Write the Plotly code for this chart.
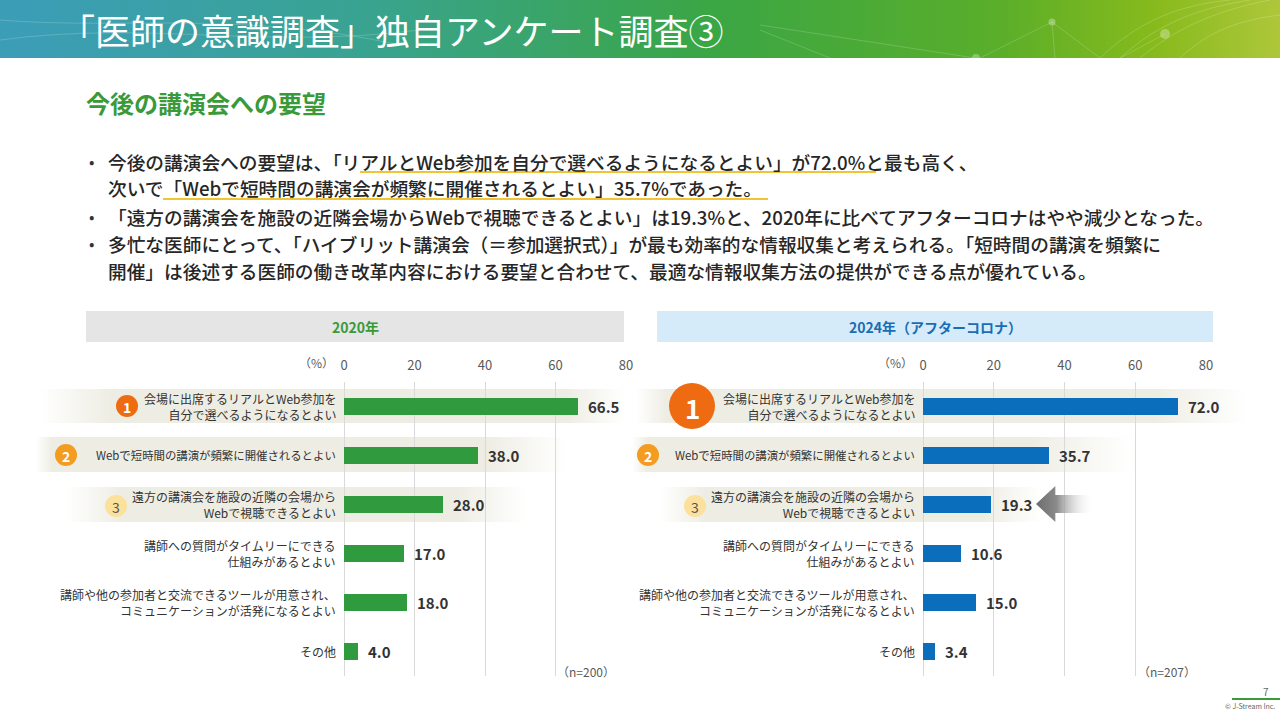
import base64
import plotly.graph_objects as go

W, H = 1280, 720
FONT = "Noto Sans CJK JP"

# ---------------- data ----------------
categories = [
    "会場に出席するリアルとWeb参加を<br>自分で選べるようになるとよい",
    "Webで短時間の講演が頻繁に開催されるとよい",
    "遠方の講演会を施設の近隣の会場から<br>Webで視聴できるとよい",
    "講師への質問がタイムリーにできる<br>仕組みがあるとよい",
    "講師や他の参加者と交流できるツールが用意され、<br>コミュニケーションが活発になるとよい",
    "その他",
]
values_2020 = [66.5, 38.0, 28.0, 17.0, 18.0, 4.0]
values_2024 = [72.0, 35.7, 19.3, 10.6, 15.0, 3.4]
x_ticks = [0, 20, 40, 60, 80]
ranks = ["1", "2", "3"]
n_2020 = "（n=200）"
n_2024 = "（n=207）"

title_text = "「医師の意識調査」独自アンケート調査③"
subtitle_text = "今後の講演会への要望"
bullet_lines = [
    ("•", "今後の講演会への要望は、「リアルとWeb参加を自分で選べるようになるとよい」が72.0%と最も高く、"),
    ("", "次いで「Webで短時間の講演会が頻繁に開催されるとよい」35.7%であった。"),
    ("•", "「遠方の講演会を施設の近隣会場からWebで視聴できるとよい」は19.3%と、2020年に比べてアフターコロナはやや減少となった。"),
    ("•", "多忙な医師にとって、「ハイブリット講演会（＝参加選択式）」が最も効率的な情報収集と考えられる。「短時間の講演を頻繁に"),
    ("", "開催」は後述する医師の働き改革内容における要望と合わせて、最適な情報収集方法の提供ができる点が優れている。"),
]

# label font sizes (style only)
label_sizes = [12, 11.4, 12, 12, 12, 12]


def px(x):
    return x / W


def py(y):
    return 1 - y / H


def svg_uri(svg):
    return "data:image/svg+xml;base64," + base64.b64encode(svg.encode("utf-8")).decode()


def band_svg(w, h, color="#eeede4", a=0.12, b=0.85):
    return svg_uri(
        f'<svg xmlns="http://www.w3.org/2000/svg" width="{w}" height="{h}" viewBox="0 0 {w} {h}" preserveAspectRatio="none">'
        f'<defs><linearGradient id="g" x1="0" x2="1" y1="0" y2="0">'
        f'<stop offset="0" stop-color="{color}" stop-opacity="0"/>'
        f'<stop offset="{a}" stop-color="{color}" stop-opacity="1"/>'
        f'<stop offset="{b}" stop-color="{color}" stop-opacity="1"/>'
        f'<stop offset="1" stop-color="{color}" stop-opacity="0"/>'
        f'</linearGradient></defs><rect x="0" y="0" width="{w}" height="{h}" fill="url(#g)"/></svg>'
    )


title_svg = svg_uri(
    '<svg xmlns="http://www.w3.org/2000/svg" width="1280" height="58" viewBox="0 0 1280 58" preserveAspectRatio="none">'
    '<defs><linearGradient id="t" x1="0" x2="1" y1="0" y2="0">'
    '<stop offset="0" stop-color="#3c9db8"/>'
    '<stop offset="0.28" stop-color="#39a392"/>'
    '<stop offset="0.55" stop-color="#3aa645"/>'
    '<stop offset="0.78" stop-color="#5aae2a"/>'
    '<stop offset="0.9" stop-color="#86ba1c"/>'
    '<stop offset="1" stop-color="#aec73a"/>'
    '</linearGradient></defs>'
    '<rect x="0" y="0" width="1280" height="58" fill="url(#t)"/>'
    '<g stroke="#ffffff" stroke-opacity="0.18" stroke-width="1" fill="none">'
    '<line x1="760" y1="25" x2="975" y2="58"/><line x1="760" y1="30" x2="830" y2="58"/>'
    '<line x1="980" y1="58" x2="1052" y2="22"/><line x1="1052" y1="22" x2="1100" y2="58"/>'
    '<line x1="1052" y1="22" x2="1055" y2="58"/><line x1="1165" y1="34" x2="1120" y2="58"/>'
    '<path d="M1100 58 C1140 20 1180 5 1230 0"/><path d="M1120 58 C1160 22 1200 8 1250 0"/>'
    '<path d="M1140 58 C1180 25 1220 10 1270 0"/><path d="M1180 58 C1210 30 1240 20 1280 15"/>'
    '<path d="M0 20 C120 30 240 10 400 45"/><path d="M0 40 C150 20 260 50 420 30"/>'
    '</g>'
    '<g fill="#ffffff" fill-opacity="0.3"><circle cx="1052" cy="22" r="3.5"/><circle cx="1165" cy="34" r="5"/>'
    '<circle cx="976" cy="58" r="4"/></g>'
    '</svg>'
)

arrow_svg = svg_uri(
    '<svg xmlns="http://www.w3.org/2000/svg" width="60" height="36" viewBox="0 0 60 36" preserveAspectRatio="none">'
    '<defs><linearGradient id="a" x1="0" x2="1" y1="0" y2="0">'
    '<stop offset="0" stop-color="#6d6d6d"/>'
    '<stop offset="0.35" stop-color="#8a8a8a"/>'
    '<stop offset="1" stop-color="#ffffff" stop-opacity="0"/>'
    '</linearGradient></defs>'
    '<path d="M0 18 L20 0 L20 9 L60 9 L60 27 L20 27 L20 36 Z" fill="url(#a)"/></svg>'
)

fig = go.Figure()

GREEN = "#2f9a3e"
BLUE = "#0a6ebd"

fig.add_trace(go.Bar(
    x=values_2020, y=list(range(len(categories))), orientation="h",
    marker=dict(color=GREEN, line=dict(width=0)), width=0.33,
    xaxis="x", yaxis="y", showlegend=False, hoverinfo="x",
))
fig.add_trace(go.Bar(
    x=values_2024, y=list(range(len(categories))), orientation="h",
    marker=dict(color=BLUE, line=dict(width=0)), width=0.33,
    xaxis="x2", yaxis="y2", showlegend=False, hoverinfo="x",
))

ydom = [py(675.5), py(381.5)]
axis_common = dict(
    range=[0, 80], tickvals=x_ticks, side="top", showgrid=True, gridcolor="#d9d9d9", gridwidth=1,
    zeroline=True, zerolinecolor="#d9d9d9", zerolinewidth=1, showline=False, ticks="",
    tickfont=dict(family=FONT, size=13, color="#595959"), ticklabelstandoff=8, fixedrange=True,
    automargin=False,
)
yaxis_common = dict(range=[5.5, -0.5], showticklabels=False, showgrid=False, zeroline=False,
                    showline=False, fixedrange=True, automargin=False)

fig.update_layout(
    width=W, height=H, margin=dict(l=0, r=0, t=0, b=0, pad=0, autoexpand=False),
    paper_bgcolor="white", plot_bgcolor="rgba(0,0,0,0)",
    xaxis=dict(domain=[px(344), px(626)], anchor="y", **axis_common),
    yaxis=dict(domain=ydom, anchor="x", **yaxis_common),
    xaxis2=dict(domain=[px(923), px(1206)], anchor="y2", **axis_common),
    yaxis2=dict(domain=ydom, anchor="x2", **yaxis_common),
    bargap=0,
)

images = [
    dict(source=title_svg, xref="paper", yref="paper", x=0, y=1, sizex=1, sizey=58 / H,
         xanchor="left", yanchor="top", sizing="stretch", layer="below"),
    # highlight bands, left panel
    dict(source=band_svg(585, 34, a=0.12, b=0.9), xref="paper", yref="paper", x=px(40), y=py(389),
         sizex=px(585), sizey=34 / H, xanchor="left", yanchor="top", sizing="stretch", layer="below"),
    dict(source=band_svg(530, 35, a=0.03, b=0.85), xref="paper", yref="paper", x=px(36), y=py(437),
         sizex=px(530), sizey=35 / H, xanchor="left", yanchor="top", sizing="stretch", layer="below"),
    dict(source=band_svg(460, 35, a=0.12, b=0.85), xref="paper", yref="paper", x=px(66), y=py(487),
         sizex=px(460), sizey=35 / H, xanchor="left", yanchor="top", sizing="stretch", layer="below"),
    # highlight bands, right panel
    dict(source=band_svg(610, 34, a=0.05, b=0.85), xref="paper", yref="paper", x=px(636), y=py(389),
         sizex=px(610), sizey=34 / H, xanchor="left", yanchor="top", sizing="stretch", layer="below"),
    dict(source=band_svg(500, 35, a=0.03, b=0.8), xref="paper", yref="paper", x=px(632), y=py(437),
         sizex=px(500), sizey=35 / H, xanchor="left", yanchor="top", sizing="stretch", layer="below"),
    dict(source=band_svg(380, 35, a=0.12, b=0.85), xref="paper", yref="paper", x=px(660), y=py(487),
         sizex=px(380), sizey=35 / H, xanchor="left", yanchor="top", sizing="stretch", layer="below"),
    # arrow
    dict(source=arrow_svg, xref="paper", yref="paper", x=px(1036), y=py(486),
         sizex=px(58), sizey=36 / H, xanchor="left", yanchor="top", sizing="stretch", layer="above"),
]
fig.update_layout(images=images)

shapes = [
    # panel headers
    dict(type="rect", xref="paper", yref="paper", x0=px(86), x1=px(624), y0=py(342), y1=py(311),
         fillcolor="#e5e5e5", line=dict(width=0), layer="below"),
    dict(type="rect", xref="paper", yref="paper", x0=px(657), x1=px(1213), y0=py(342), y1=py(311),
         fillcolor="#d6ebfa", line=dict(width=0), layer="below"),
    # yellow underlines
    dict(type="line", xref="paper", yref="paper", x0=px(360), x1=px(876), y0=py(172), y1=py(172),
         line=dict(color="#f2c431", width=2)),
    dict(type="line", xref="paper", yref="paper", x0=px(163), x1=px(768), y0=py(199), y1=py(199),
         line=dict(color="#f2c431", width=2)),
    # footer line
    dict(type="line", xref="paper", yref="paper", x0=px(1232), x1=px(1280), y0=py(699), y1=py(699),
         line=dict(color="#3a9a3a", width=2)),
]

# rank circles (center x, center y, radius, fill, text color, font size)
circles = [
    (127, 406, 11, "#ee6b12", "white", 14, ranks[0]),
    (66, 455, 11, "#f39c1f", "white", 14, ranks[1]),
    (116, 506, 11, "#fbe19c", "#555555", 14, ranks[2]),
    (692, 406, 23, "#ee6b12", "white", 26, ranks[0]),
    (648, 455, 11, "#f39c1f", "white", 14, ranks[1]),
    (695, 506, 11, "#fbe19c", "#555555", 14, ranks[2]),
]
annotations = []
for cx, cy, r, fc, tc, fs, t in circles:
    shapes.append(dict(type="circle", xref="paper", yref="paper", x0=px(cx - r), x1=px(cx + r),
                       y0=py(cy + r), y1=py(cy - r), fillcolor=fc, line=dict(width=0), layer="above"))
    annotations.append(dict(text=f"<b>{t}</b>" if tc == "white" else t, x=px(cx), y=py(cy + 1), xref="paper", yref="paper",
                            showarrow=False, xanchor="center", yanchor="middle",
                            font=dict(family=FONT, size=fs, color=tc)))
fig.update_layout(shapes=shapes)

# title & subtitle
annotations.append(dict(text=title_text, x=px(58), y=py(30), xref="paper", yref="paper", showarrow=False,
                        xanchor="left", yanchor="middle", font=dict(family=FONT, size=35, color="white")))
annotations.append(dict(text=f"<b>{subtitle_text}</b>", x=px(84), y=py(103), xref="paper", yref="paper",
                        showarrow=False, xanchor="left", yanchor="middle",
                        font=dict(family=FONT, size=24, color="#3a9a3a")))

# bullets
line_y = [161, 188, 216, 243, 270]
for (b, t), yy in zip(bullet_lines, line_y):
    if b:
        annotations.append(dict(text=b, x=px(91), y=py(yy), xref="paper", yref="paper", showarrow=False,
                                xanchor="center", yanchor="middle",
                                font=dict(family=FONT, size=16, color="#333333")))
    annotations.append(dict(text=t, x=px(106), y=py(yy), xref="paper", yref="paper", showarrow=False,
                            xanchor="left", yanchor="middle",
                            font=dict(family=FONT, size=18.7, color="#262626", weight=500)))

# panel header texts
annotations.append(dict(text="<b>2020年</b>", x=px(355), y=py(326.5), xref="paper", yref="paper", showarrow=False,
                        xanchor="center", yanchor="middle", font=dict(family=FONT, size=14, color="#3a9a3a")))
annotations.append(dict(text="<b>2024年（アフターコロナ）</b>", x=px(935), y=py(326.5), xref="paper", yref="paper",
                        showarrow=False, xanchor="center", yanchor="middle",
                        font=dict(family=FONT, size=14, color="#1a6db3")))

# (%) unit labels
for xr in ["x", "x2"]:
    annotations.append(dict(text="（%）", x=0, xref=xr, y=py(362), yref="paper", xshift=-8, showarrow=False,
                            xanchor="right", yanchor="middle", font=dict(family=FONT, size=12, color="#595959")))

# category labels and value labels
for xr, yr, vals in [("x", "y", values_2020), ("x2", "y2", values_2024)]:
    for i, (cat, v) in enumerate(zip(categories, vals)):
        annotations.append(dict(text=cat, x=0, xref=xr, y=i, yref=yr, xshift=-6, showarrow=False,
                                xanchor="right", yanchor="middle", align="right",
                                font=dict(family=FONT, size=label_sizes[i], color="#333333")))
        annotations.append(dict(text=f"<b>{v:.1f}</b>", x=v, xref=xr, y=i, yref=yr, xshift=8, showarrow=False,
                                xanchor="left", yanchor="middle",
                                font=dict(family=FONT, size=15, color="#333333")))

# n labels
annotations.append(dict(text=n_2020, x=px(617), y=py(671), xref="paper", yref="paper", showarrow=False,
                        xanchor="right", yanchor="middle", font=dict(family=FONT, size=12, color="#595959")))
annotations.append(dict(text=n_2024, x=px(1198), y=py(671), xref="paper", yref="paper", showarrow=False,
                        xanchor="right", yanchor="middle", font=dict(family=FONT, size=12, color="#595959")))

# footer
annotations.append(dict(text="7", x=px(1271), y=py(691), xref="paper", yref="paper", showarrow=False,
                        xanchor="right", yanchor="middle", font=dict(family=FONT, size=10, color="#666666")))
annotations.append(dict(text="© J-Stream Inc.", x=px(1277), y=py(706), xref="paper", yref="paper", showarrow=False,
                        xanchor="right", yanchor="middle", font=dict(family=FONT, size=7, color="#666666")))

fig.update_layout(annotations=annotations)

fig.write_html(
    "out.html",
    config={"displayModeBar": False},
    post_script="document.body.style.margin='0';document.body.style.overflow='hidden';",
)
